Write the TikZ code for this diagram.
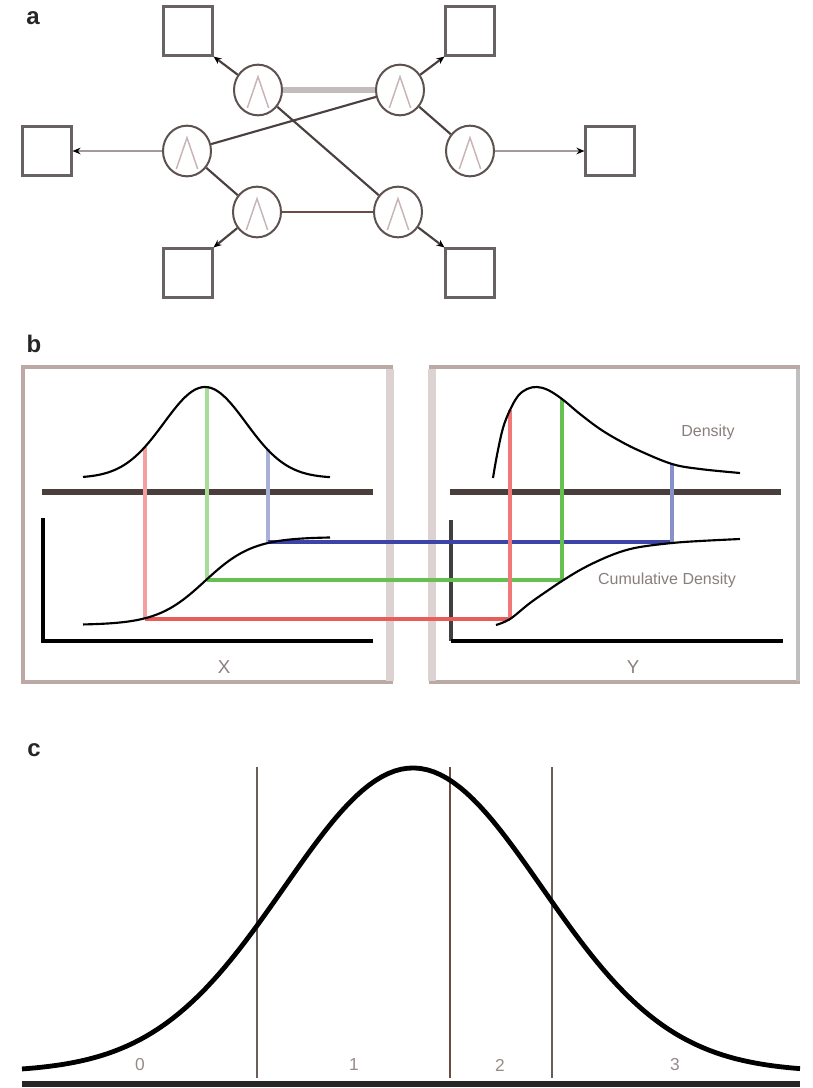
\documentclass[tikz,border=0pt]{standalone}
\usepackage{fontspec}
\setmainfont{Liberation Sans}
\usetikzlibrary{arrows.meta,shapes.geometric}

\definecolor{ringcol}{HTML}{5E5250}
\definecolor{tentcol}{HTML}{C8B4B4}
\definecolor{boxcol}{HTML}{686262}
\definecolor{linkcol}{HTML}{4A4040}
\definecolor{palecol}{HTML}{C4BCBC}
\definecolor{greylink}{HTML}{A29A9A}
\definecolor{browncol}{HTML}{6E4A44}
\definecolor{framecol}{HTML}{BCA8A4}
\definecolor{frameside}{HTML}{DDD2D2}
\definecolor{axiscol}{HTML}{4A3E3C}
\definecolor{notecol}{HTML}{8A7E7C}
\definecolor{redh}{HTML}{E85C5C}
\definecolor{redl}{HTML}{F4A0A0}
\definecolor{redr}{HTML}{F07878}
\definecolor{greenh}{HTML}{66C050}
\definecolor{greenl}{HTML}{A8DC98}
\definecolor{blueh}{HTML}{3C44A8}
\definecolor{bluel}{HTML}{A8B0D8}
\definecolor{bluer}{HTML}{8890CC}
\definecolor{cutcol}{HTML}{6A5E5C}

\begin{document}
\begin{tikzpicture}[
  x=0.75pt, y=-0.75pt,
  panel/.style={font=\bfseries\fontsize{18}{18}\selectfont, text=black!85, inner sep=0pt},
  unit/.style={ellipse, draw=ringcol, line width=1.5pt, minimum width=36pt, minimum height=38pt, inner sep=0pt,
    path picture={\draw[tentcol, line width=1.1pt]
      ([shift={(-8pt,-13.5pt)}]path picture bounding box.center) --
      ([shift={(0pt,10pt)}]path picture bounding box.center) --
      ([shift={(8pt,-13.5pt)}]path picture bounding box.center);}},
  sqbox/.style={rectangle, draw=boxcol, line width=1.8pt, minimum size=36.5pt, inner sep=0pt},
  link/.style={draw=linkcol, line width=1.6pt},
  outarrow/.style={link, -{Stealth[length=6pt, width=5pt, color=black]}},
  note/.style={font=\fontsize{12}{12}\selectfont, text=notecol, inner sep=0pt},
  axlabel/.style={note, font=\fontsize{14}{14}\selectfont},
  catlabel/.style={note, font=\fontsize{13}{13}\selectfont, text=notecol!90},
  trace/.style={line width=1.6pt, black},
  densaxis/.style={line width=5pt, axiscol},
  cumaxis/.style={line width=3.4pt, black}
]
\useasboundingbox (0,0) rectangle (813,1088);

% ---- panel a: network of units
\node[panel] (pa) at (33,18) {a};

\node[sqbox] (sTL) at (188,31) {};
\node[sqbox] (sTR) at (470,31) {};
\node[sqbox] (sL)  at (47,151) {};
\node[sqbox] (sR)  at (610,151) {};
\node[sqbox] (sBL) at (188,273) {};
\node[sqbox] (sBR) at (470,273) {};

\node[unit] (uTL) at (258,90) {};
\node[unit] (uTR) at (400,90) {};
\node[unit] (uL)  at (187,151) {};
\node[unit] (uR)  at (470,151) {};
\node[unit] (uBL) at (257,212) {};
\node[unit] (uBR) at (398,212) {};

\draw[palecol, line width=4.5pt] (uTL) -- (uTR);
\draw[link] (uL) -- (uTR);
\draw[link] (uTL) -- (uBR);
\draw[link] (uL) -- (uBL);
\draw[link] (uTR) -- (uR);
\draw[link, draw=browncol] (uBL) -- (uBR);

\draw[outarrow] (uTL) -- (sTL.south east);
\draw[outarrow] (uTR) -- (sTR.south west);
\draw[outarrow, draw=greylink, line width=2.2pt] (uL) -- (sL);
\draw[outarrow, draw=greylink, line width=2.2pt] (uR) -- (sR);
\draw[outarrow] (uBL) -- (sBL.north east);
\draw[outarrow] (uBR) -- (sBR.north west);

% ---- panel b: density and cumulative density of X and Y
\node[panel] (pb) at (34,344) {b};

\draw[framecol, line width=2.5pt] (23,367) rectangle (391,682);
\draw[framecol, line width=2.5pt] (431,367) rectangle (798,682);
\draw[frameside, line width=6pt] (390,369) -- (390,681);
\draw[frameside, line width=6pt] (432,369) -- (432,681);
\draw[black!25, line width=3pt] (798,369) -- (798,681);

\draw[densaxis] (42,492) -- (373,492);
\draw[densaxis] (450,492) -- (781,492);
\draw[cumaxis] (43,518) -- (43,641) -- (373,641);
\draw[cumaxis, draw=black!75] (451,520) -- (451,641);
\draw[cumaxis] (451,641) -- (783,641);

% mapping points
\coordinate (rX)  at (145,447);
\coordinate (rXc) at (145,619);
\coordinate (rYc) at (510,619);
\coordinate (rY)  at (510,410);
\coordinate (gX)  at (207,387);
\coordinate (gXc) at (207,580);
\coordinate (gYc) at (562,580);
\coordinate (gY)  at (562,399);
\coordinate (bX)  at (268,449);
\coordinate (bXc) at (268,542);
\coordinate (bYc) at (672,542);
\coordinate (bY)  at (672,464);

\draw[redl, line width=2.4pt] (rX) -- (rXc);
\draw[greenl, line width=2.4pt] (gX) -- (gXc);
\draw[bluel, line width=2.4pt] (bX) -- (bXc);
\draw[redh, line width=3pt] (rXc) -- (rYc);
\draw[greenh, line width=3pt] (gXc) -- (gYc);
\draw[blueh, line width=3pt] (bXc) -- (bYc);
\draw[redr, line width=2.4pt] (rYc) -- (rY);
\draw[greenh, line width=2.4pt] (gYc) -- (gY);
\draw[bluer, line width=2.4pt] (bYc) -- (bY);

\draw[trace] plot[domain=83:330, samples=80] (\x, {478 - 91*exp(-0.5*((\x-205)/41)^2)});
\draw[trace] plot[domain=83:330, samples=80] (\x, {625 - 88/(1+exp(-1.702*(\x-205)/41))});
\draw[trace] plot[smooth, tension=0.6] coordinates {(493,478) (497,455) (503,428) (510,410) (518,396)
  (527,389) (537,387) (548,390) (562,399) (580,414) (600,429) (620,441) (640,451) (672,464) (700,469) (740,473)};
\draw[trace] plot[smooth, tension=0.6] coordinates {(496,625) (510,619) (530,603) (550,589) (562,581)
  (580,570) (600,560) (620,552) (640,547) (672,543) (700,541) (740,539)};

\node[note] (dens) at (708,432) {Density};
\node[note] (cum)  at (667,580) {Cumulative Density};
\node[axlabel] (xl) at (224,667) {X};
\node[axlabel] (yl) at (633,667) {Y};

% ---- panel c: categories cut from a normal curve
\node[panel] (pc) at (34,750) {c};

\coordinate (k1t) at (257,767);  \coordinate (k1b) at (257,1078);
\coordinate (k2t) at (450,767);  \coordinate (k2b) at (450,1078);
\coordinate (k3t) at (552,767);  \coordinate (k3b) at (552,1078);
\draw[cutcol, line width=1.5pt] (k1t) -- (k1b);
\draw[browncol, line width=1.5pt] (k2t) -- (k2b);
\draw[cutcol, line width=1.5pt] (k3t) -- (k3b);

\draw[line width=3.6pt, black] plot[domain=22:800, samples=120] (\x, {1072 - 304*exp(-0.5*((\x-413)/129)^2)});
\draw[black!85, line width=4.5pt] (22,1084) -- (800,1084);

\node[catlabel] (n0) at (140,1065) {0};
\node[catlabel] (n1) at (354,1065) {1};
\node[catlabel] (n2) at (500,1065) {2};
\node[catlabel] (n3) at (675,1065) {3};
\end{tikzpicture}
\end{document}
